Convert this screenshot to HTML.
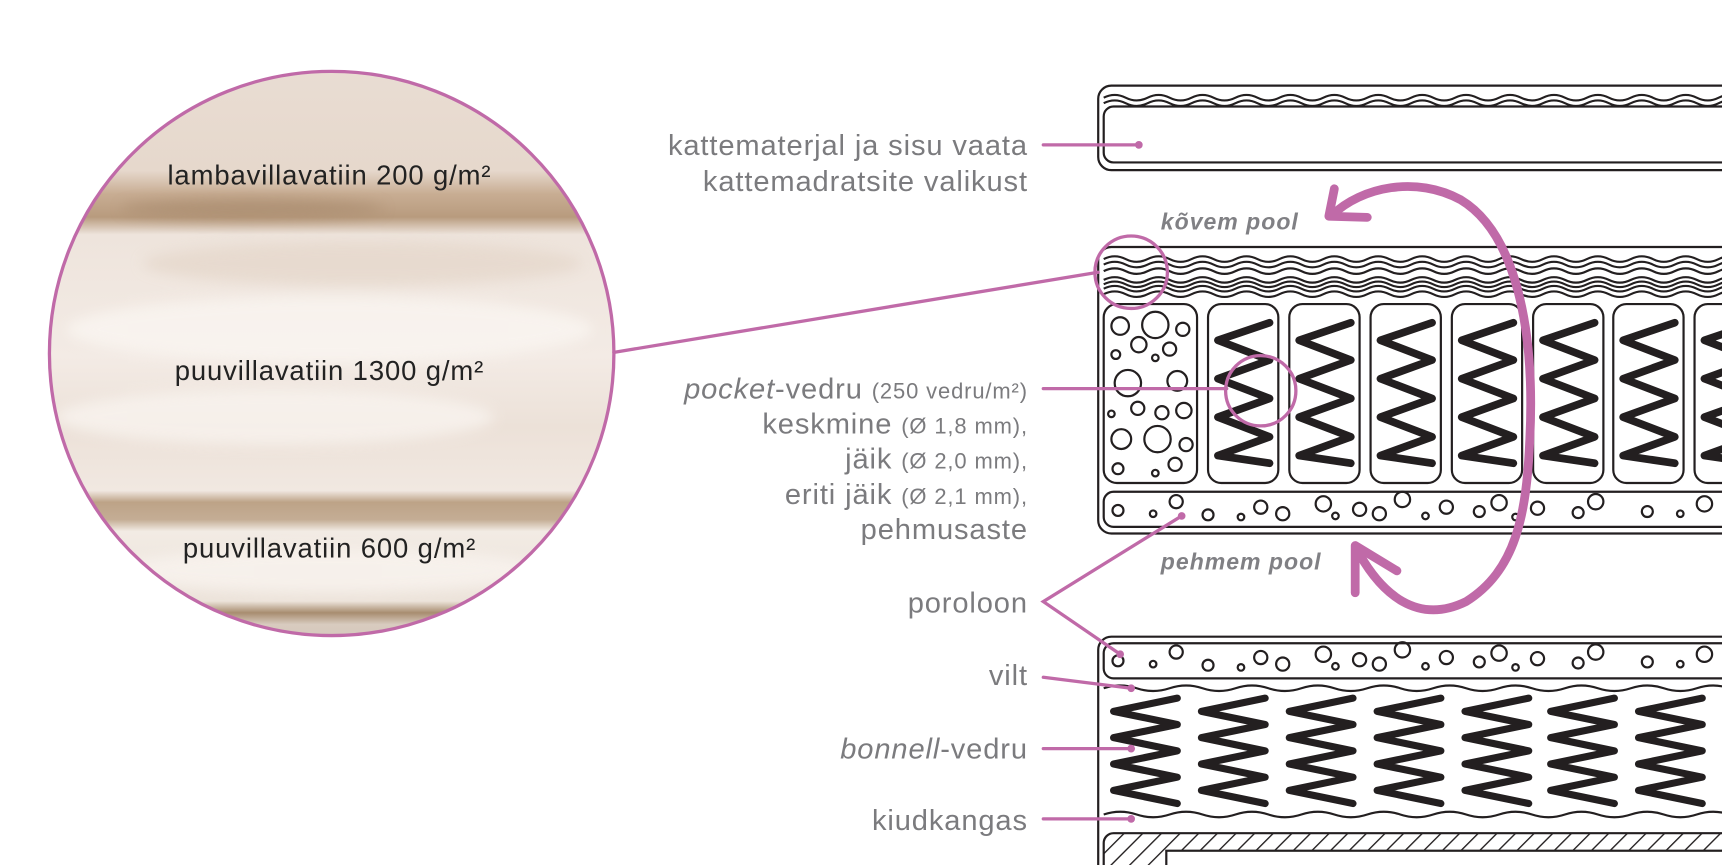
<!DOCTYPE html>
<html><head><meta charset="utf-8"><style>
html,body{margin:0;padding:0;background:#fff;}
svg{display:block;}
.lbl{font-family:"Liberation Sans",sans-serif;fill:#7b7b7e;font-size:26.5px;letter-spacing:0.8px;}
.sm{font-size:20px;}
.it{font-style:italic;}
.side{font-family:"Liberation Sans",sans-serif;font-style:italic;font-weight:bold;fill:#808084;font-size:21px;letter-spacing:0.9px;}
.ct{font-family:"Liberation Sans",sans-serif;fill:#222;font-size:25px;letter-spacing:0.8px;}
</style></head><body>
<svg width="1722" height="865" viewBox="0 0 1568 788" preserveAspectRatio="none" xmlns="http://www.w3.org/2000/svg">
<defs>
<clipPath id="cc"><circle cx="302" cy="322" r="257"/></clipPath>
<linearGradient id="wool" x1="0" y1="0" x2="0" y2="1">
<stop offset="0" stop-color="#e9ddd3"/>
<stop offset="0.18" stop-color="#e6d8cc"/>
<stop offset="0.22" stop-color="#c8ad93"/>
<stop offset="0.26" stop-color="#b89b7e"/>
<stop offset="0.29" stop-color="#eee4dc"/>
<stop offset="0.5" stop-color="#f3ebe5"/>
<stop offset="0.62" stop-color="#ece1d8"/>
<stop offset="0.73" stop-color="#f1e8e1"/>
<stop offset="0.75" stop-color="#bda387"/>
<stop offset="0.78" stop-color="#c4ad95"/>
<stop offset="0.8" stop-color="#f2ebe4"/>
<stop offset="0.92" stop-color="#ece3da"/>
<stop offset="0.94" stop-color="#a88d70"/>
<stop offset="0.96" stop-color="#d8cbbf"/>
<stop offset="1" stop-color="#d4c7bb"/>
</linearGradient>
<filter id="bl"><feGaussianBlur stdDeviation="6"/></filter>
<g id="pspring"><polyline fill="none" stroke="#231f20" stroke-width="7" stroke-linecap="round" stroke-linejoin="round" points="56,2 9,18 56,36 9,53 56,71 9,88 56,106 9,123 56,130"/></g>
<g id="bspring"><polyline fill="none" stroke="#231f20" stroke-width="6.5" stroke-linecap="round" stroke-linejoin="round" points="62,0 4,12 62,24 4,36 62,48 4,60 62,72 4,84 62,96"/></g>
<path id="wave" d="M1005,0 q10,-5 20,0 t20,0 t20,0 t20,0 t20,0 t20,0 t20,0 t20,0 t20,0 t20,0 t20,0 t20,0 t20,0 t20,0 t20,0 t20,0 t20,0 t20,0 t20,0 t20,0 t20,0 t20,0 t20,0 t20,0 t20,0 t20,0 t20,0 t20,0 t20,0" fill="none" stroke="#231f20" stroke-width="2"/>
<path id="wave2" d="M1005,0 q15,-5 30,0 t30,0 t30,0 t30,0 t30,0 t30,0 t30,0 t30,0 t30,0 t30,0 t30,0 t30,0 t30,0 t30,0 t30,0 t30,0 t30,0 t30,0 t30,0 t30,0" fill="none" stroke="#231f20" stroke-width="2"/>
<pattern id="hatch" width="12" height="12" patternUnits="userSpaceOnUse" patternTransform="rotate(45)"><line x1="0" y1="0" x2="0" y2="12" stroke="#231f20" stroke-width="2.5"/></pattern>
</defs>

<g clip-path="url(#cc)">
<rect x="40" y="60" width="530" height="530" fill="url(#wool)"/>
<g filter="url(#bl)" opacity="0.7">
<ellipse cx="300" cy="300" rx="240" ry="30" fill="#fbf7f3"/>
<ellipse cx="250" cy="380" rx="200" ry="25" fill="#faf6f2"/>
<ellipse cx="330" cy="240" rx="200" ry="20" fill="#e4d6c9"/>
<ellipse cx="230" cy="190" rx="120" ry="9" fill="#a98b6e"/>
<ellipse cx="300" cy="520" rx="200" ry="20" fill="#faf5f1"/>
</g>
</g>
<circle cx="302" cy="322" r="257" fill="none" stroke="#c06aa8" stroke-width="3"/>
<text class="ct" x="300" y="168" text-anchor="middle">lambavillavatiin 200 g/m²</text>
<text class="ct" x="300" y="346" text-anchor="middle">puuvillavatiin 1300 g/m²</text>
<text class="ct" x="300" y="508" text-anchor="middle">puuvillavatiin 600 g/m²</text>

<g class="lbl" text-anchor="end">
<text x="936" y="141">kattematerjal ja sisu vaata</text>
<text x="936" y="174">kattemadratsite valikust</text>
<text x="936" y="363"><tspan class="it">pocket</tspan>-vedru <tspan class="sm">(250 vedru/m²)</tspan></text>
<text x="936" y="395">keskmine <tspan class="sm">(Ø 1,8 mm),</tspan></text>
<text x="936" y="427">jäik <tspan class="sm">(Ø 2,0 mm),</tspan></text>
<text x="936" y="459">eriti jäik <tspan class="sm">(Ø 2,1 mm),</tspan></text>
<text x="936" y="491">pehmusaste</text>
<text x="936" y="558">poroloon</text>
<text x="936" y="624">vilt</text>
<text x="936" y="691"><tspan class="it">bonnell</tspan>-vedru</text>
<text x="936" y="756">kiudkangas</text>
</g>
<text class="side" x="1057" y="209">kõvem pool</text>
<text class="side" x="1057" y="519">pehmem pool</text>

<g fill="none" stroke="#231f20" stroke-width="2">
<rect x="1000" y="78" width="600" height="77" rx="12"/>
<rect x="1005" y="97" width="600" height="51" rx="9"/>
</g>
<use href="#wave" y="89"/><use href="#wave" y="94"/>

<g fill="none" stroke="#231f20" stroke-width="2">
<rect x="1000" y="225" width="600" height="261" rx="12"/>
<rect x="1005" y="448" width="600" height="32" rx="9"/>
<rect x="1005" y="277" width="85" height="163" rx="12"/>
<rect x="1100" y="277" width="64" height="163" rx="12"/>
<rect x="1174" y="277" width="64" height="163" rx="12"/>
<rect x="1248" y="277" width="64" height="163" rx="12"/>
<rect x="1322" y="277" width="64" height="163" rx="12"/>
<rect x="1396" y="277" width="64" height="163" rx="12"/>
<rect x="1469" y="277" width="64" height="163" rx="12"/>
<rect x="1543" y="277" width="64" height="163" rx="12"/>
</g>
<use href="#wave" y="236"/><use href="#wave" y="241"/><use href="#wave" y="247"/>
<use href="#wave" y="255"/><use href="#wave" y="259"/><use href="#wave" y="263"/><use href="#wave" y="268"/>
<use href="#pspring" x="1100" y="292"/><use href="#pspring" x="1174" y="292"/><use href="#pspring" x="1248" y="292"/><use href="#pspring" x="1322" y="292"/><use href="#pspring" x="1396" y="292"/><use href="#pspring" x="1469" y="292"/><use href="#pspring" x="1543" y="292"/>
<g fill="none" stroke="#231f20" stroke-width="2">
<circle cx="1020" cy="297" r="8"/><circle cx="1052" cy="296" r="12"/><circle cx="1077" cy="300" r="6"/>
<circle cx="1037" cy="314" r="7"/><circle cx="1065" cy="318" r="6"/><circle cx="1016" cy="323" r="4"/><circle cx="1052" cy="326" r="3"/>
<circle cx="1027" cy="349" r="12"/><circle cx="1072" cy="347" r="9"/>
<circle cx="1036" cy="372" r="6"/><circle cx="1058" cy="376" r="6"/><circle cx="1012" cy="377" r="3"/><circle cx="1078" cy="374" r="7"/>
<circle cx="1021" cy="400" r="9"/><circle cx="1054" cy="400" r="12"/><circle cx="1080" cy="405" r="6"/>
<circle cx="1018" cy="427" r="5"/><circle cx="1052" cy="431" r="3"/><circle cx="1070" cy="423" r="6"/>
</g>
<g id="bub" fill="none" stroke="#231f20" stroke-width="2">
<circle cx="1018" cy="465" r="5"/><circle cx="1050" cy="468" r="3"/><circle cx="1071" cy="457" r="6"/>
<circle cx="1100" cy="469" r="5"/><circle cx="1130" cy="471" r="3"/><circle cx="1148" cy="462" r="6"/><circle cx="1168" cy="468" r="6"/>
<circle cx="1205" cy="459" r="7"/><circle cx="1216" cy="470" r="3"/><circle cx="1238" cy="464" r="6"/><circle cx="1256" cy="468" r="6"/>
<circle cx="1277" cy="455" r="7"/><circle cx="1298" cy="470" r="3"/><circle cx="1317" cy="462" r="6"/>
<circle cx="1347" cy="466" r="5"/><circle cx="1365" cy="458" r="7"/><circle cx="1380" cy="471" r="3"/><circle cx="1400" cy="463" r="6"/>
<circle cx="1437" cy="467" r="5"/><circle cx="1453" cy="457" r="7"/><circle cx="1500" cy="466" r="5"/><circle cx="1530" cy="468" r="3"/><circle cx="1552" cy="459" r="7"/>
</g>

<g fill="none" stroke="#231f20" stroke-width="2">
<rect x="1000" y="580" width="600" height="240" rx="12"/>
<rect x="1005" y="586" width="600" height="32" rx="9"/>
</g>
<use href="#bub" y="137"/>
<use href="#wave2" y="627"/>
<use href="#wave2" y="742"/>
<use href="#bspring" x="1010" y="636"/><use href="#bspring" x="1090" y="636"/><use href="#bspring" x="1170" y="636"/><use href="#bspring" x="1250" y="636"/><use href="#bspring" x="1330" y="636"/><use href="#bspring" x="1408" y="636"/><use href="#bspring" x="1488" y="636"/>
<path d="M1005,790 V768 a9,9 0 0 1 9,-9 H1600 V790 Z" fill="url(#hatch)" stroke="#231f20" stroke-width="2"/>
<rect x="1062" y="775" width="540" height="20" fill="#fff" stroke="#231f20" stroke-width="2"/>

<g stroke="#c06aa8" stroke-width="3" fill="none" stroke-linecap="round">
<line x1="950" y1="132" x2="1037" y2="132"/>
<line x1="559" y1="321" x2="1000" y2="248"/>
<circle cx="1030" cy="248" r="33"/>
<line x1="950" y1="354" x2="1117" y2="354"/>
<circle cx="1148" cy="356" r="32"/>
<polyline points="1076,470 950,548 1020,596"/>
<polyline points="950,617 1030,627"/>
<line x1="950" y1="682" x2="1030" y2="682"/>
<line x1="950" y1="746" x2="1030" y2="746"/>
</g>
<g fill="#c06aa8">
<circle cx="1037" cy="132" r="3.5"/><circle cx="1076" cy="470" r="3.5"/><circle cx="1020" cy="596" r="3.5"/>
<circle cx="1030" cy="627" r="3.5"/><circle cx="1030" cy="682" r="3.5"/><circle cx="1030" cy="746" r="3.5"/>
</g>

<g stroke="#c06aa8" stroke-width="8" fill="none" stroke-linecap="round" stroke-linejoin="round">
<path d="M1213,196 C1240,170 1290,160 1330,182 C1380,212 1398,300 1393,400 C1390,470 1380,520 1335,548 C1290,570 1258,540 1238,505"/>
<polyline points="1215,172 1210,197 1245,198"/>
<polyline points="1234,540 1234,497 1272,520"/>
</g>
</svg>
</body></html>
